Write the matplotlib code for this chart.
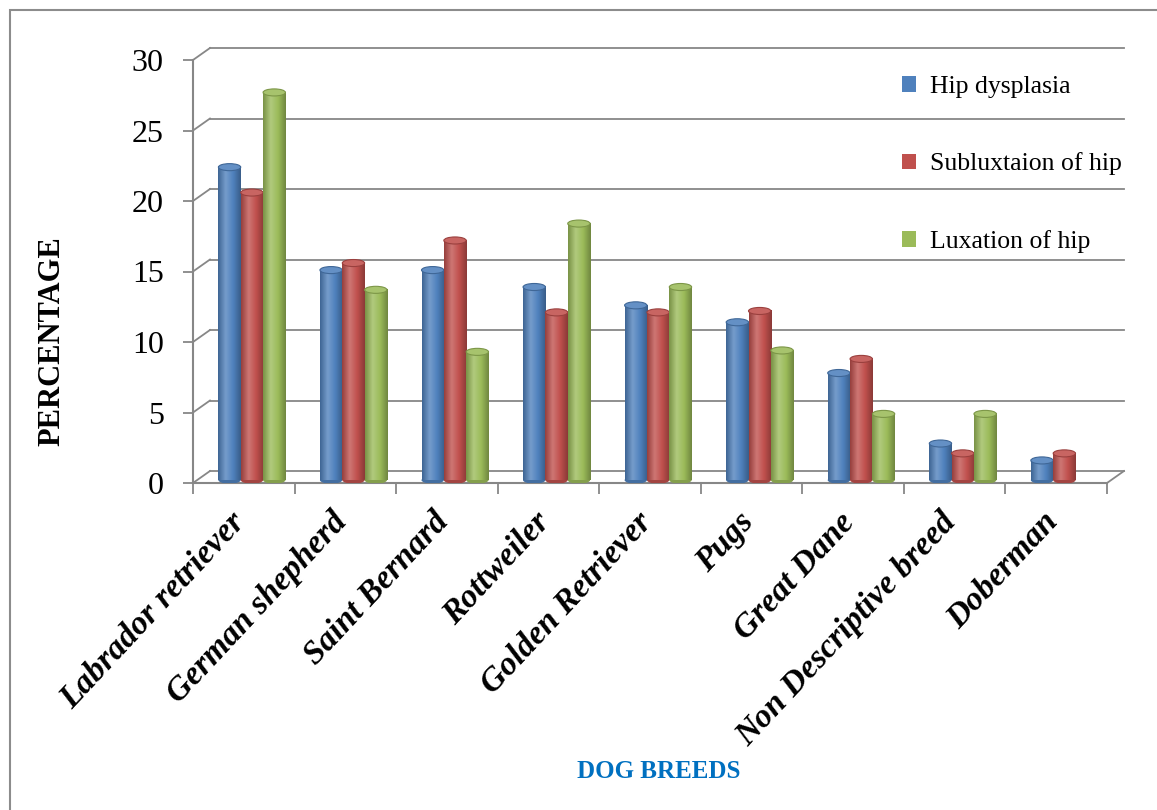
import numpy as np
import matplotlib
matplotlib.use("Agg")
import matplotlib.pyplot as plt
from matplotlib.colors import LinearSegmentedColormap, to_rgb
from matplotlib.patches import Ellipse, Rectangle

# data
breeds = ["Labrador retriever", "German shepherd", "Saint Bernard", "Rottweiler",
          "Golden Retriever", "Pugs", "Great Dane", "Non Descriptive breed", "Doberman"]
hip_dysplasia = [22.2, 14.9, 14.9, 13.7, 12.4, 11.2, 7.6, 2.6, 1.4]
subluxation = [20.4, 15.4, 17.0, 11.9, 11.9, 12.0, 8.6, 1.9, 1.9]
luxation = [27.5, 13.5, 9.1, 18.2, 13.7, 9.2, 4.7, 4.7, 0.0]
series_names = ["Hip dysplasia", "Subluxtaion of hip", "Luxation of hip"]
yticks = [0, 5, 10, 15, 20, 25, 30]

colors = ["#4F81BD", "#C0504D", "#9BBB59"]
grid_col = "#878787"
serif = "Liberation Serif"

# fake 3D depth offsets (data units)
DX, DY = 0.167, 0.85
BASE = 0.2
W = 0.22


def shade(c, f):
    r, g, b = to_rgb(c)
    if f < 1:
        return (r * f, g * f, b * f)
    f = f - 1
    return (r + (1 - r) * f, g + (1 - g) * f, b + (1 - b) * f)


def cyl_cmap(c):
    return LinearSegmentedColormap.from_list(
        "c", [shade(c, 0.78), shade(c, 1.22), shade(c, 1.0), shade(c, 0.72)])


fig = plt.figure(figsize=(11.57, 8.10), dpi=100)
ax = fig.add_axes([193 / 1157, 1 - 483 / 810, 914 / 1157, 423 / 810])
ax.set_xlim(0, 9)
ax.set_ylim(0, 30)
for s in ax.spines.values():
    s.set_visible(False)

# outer frame of the picture
fig.patches.append(Rectangle((10 / 1157, -0.05), 1.1, 1 - 10 / 810 + 0.05,
                             transform=fig.transFigure, fill=False,
                             edgecolor="#8c8c8c", lw=1.5))

# back wall grid + left wall diagonals
for v in yticks:
    ax.plot([0, DX], [v, v + DY], color=grid_col, lw=1.3, clip_on=False, zorder=1)
    ax.plot([DX, 9 + DX], [v + DY, v + DY], color=grid_col, lw=1.3, clip_on=False, zorder=1)
# floor
ax.plot([0, 9], [0, 0], color=grid_col, lw=1.5, clip_on=False, zorder=1)
ax.plot([9, 9 + DX], [0, DY], color=grid_col, lw=1.3, clip_on=False, zorder=1)
ax.plot([0, 0], [0, 30], color=grid_col, lw=1.5, clip_on=False, zorder=1)

# cylinders
x = np.arange(len(breeds))
grad = np.linspace(0, 1, 64).reshape(1, -1)
eh = 0.5
for k, vals in enumerate([hip_dysplasia, subluxation, luxation]):
    cm = cyl_cmap(colors[k])
    for i, v in enumerate(vals):
        if v <= 0:
            continue
        xc = i + 0.5 + 0.08 + (k - 1) * W
        x0, x1 = xc - W / 2, xc + W / 2
        ax.add_patch(Ellipse((xc, BASE), W, eh, facecolor=shade(colors[k], 0.85),
                             edgecolor="none", zorder=3 + k * 0.1))
        ax.imshow(grad, extent=(x0, x1, BASE, BASE + v), cmap=cm, aspect="auto",
                  interpolation="bicubic", zorder=3 + k * 0.1)
        ax.add_patch(Ellipse((xc, BASE + v), W, eh, facecolor=shade(colors[k], 1.12),
                             edgecolor=shade(colors[k], 0.8), lw=0.8, zorder=3.05 + k * 0.1))
ax.set_xlim(0, 9)
ax.set_ylim(0, 30)

# axes ticks
ax.set_yticks(yticks)
ax.set_yticklabels([str(t) for t in yticks], fontfamily=serif, fontsize=23)
ax.tick_params(axis="y", length=7, width=1.3, color=grid_col, pad=14)
ax.set_xticks(np.arange(0, 10))
ax.set_xticklabels([])
ax.tick_params(axis="x", which="major", length=8, width=1.3, color=grid_col)
ax.set_xticks(x + 0.58, minor=True)
ax.set_xticklabels(breeds, minor=True, rotation=47, ha="right", va="top",
                   fontfamily=serif, fontsize=24, fontweight="bold", fontstyle="italic")
ax.tick_params(axis="x", which="minor", length=0, pad=17)

ax.set_ylabel("PERCENTAGE", fontfamily=serif, fontsize=22, fontweight="bold", labelpad=0)
ax.yaxis.set_label_coords(-127 / 914, 0.336)

fig.text(659 / 1157, 1 - 771 / 810, "DOG BREEDS", color="#0070C0", fontfamily=serif,
         fontsize=18, fontweight="bold", ha="center", va="center")

handles = [Rectangle((0, 0), 1, 1, facecolor=c) for c in colors]
fig.legend(handles, series_names, loc="upper left",
           bbox_to_anchor=(902 / 1157, 1 - 76 / 810), frameon=False,
           prop={"family": serif, "size": 18.5}, labelspacing=2.12,
           handlelength=0.55, handleheight=0.55, handletextpad=0.55,
           borderpad=0, borderaxespad=0)

fig.savefig("out.png", dpi=100)
